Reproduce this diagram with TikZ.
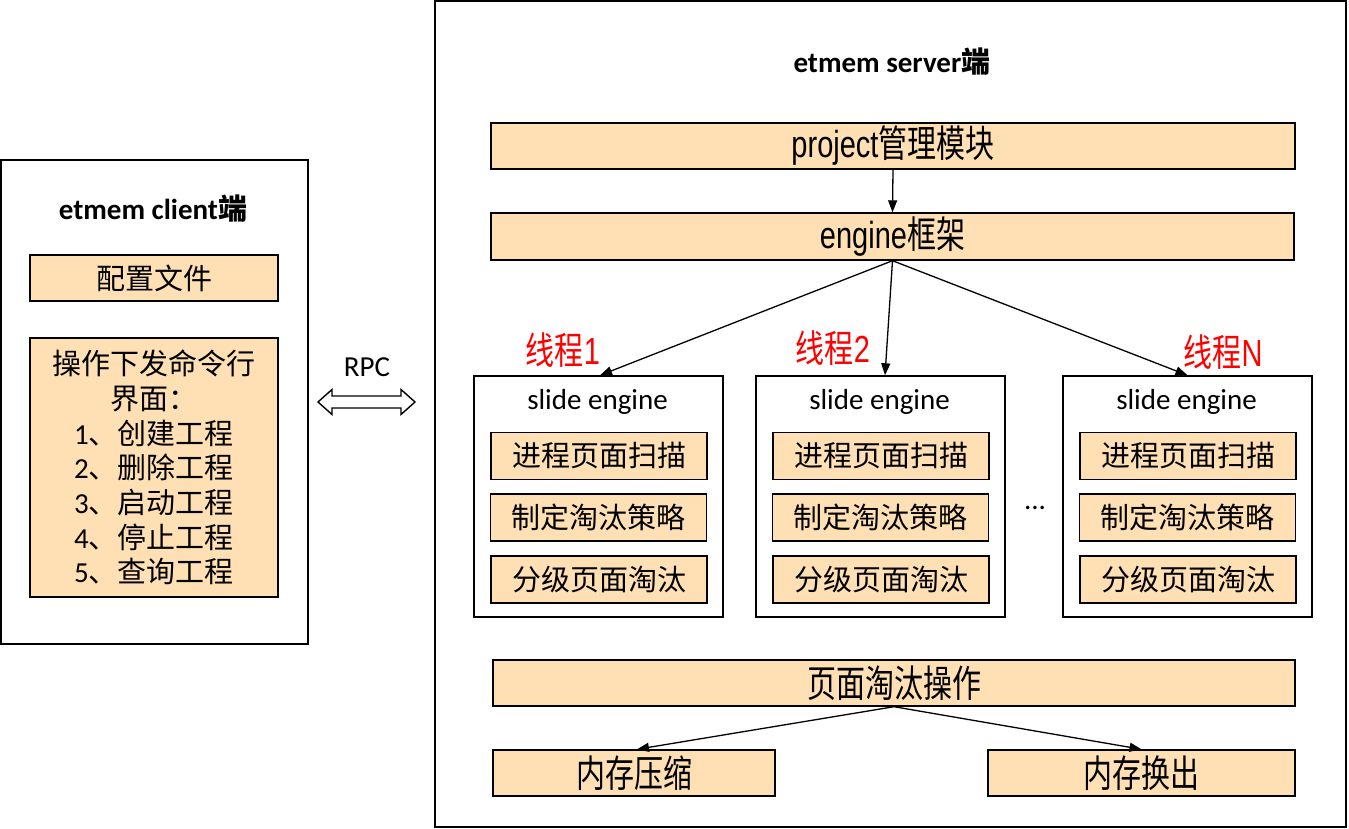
\documentclass[tikz,border=0pt]{standalone}
\usepackage{fontspec}
\usepackage{graphicx}
\setmainfont{Carlito}
\newfontfamily\cjk{Noto Sans CJK SC}
\newfontfamily\ari{Liberation Sans}
\usetikzlibrary{arrows.meta}
\definecolor{peach}{RGB}{255,224,180}
\newcommand{\tallt}[1]{\scalebox{1}[1.3]{#1}}
\begin{document}
\begin{tikzpicture}[x=1pt,y=-1pt,
  frame/.style={draw,line width=1.4pt,inner sep=0pt},
  pbox/.style={draw,line width=1.4pt,fill=peach,inner sep=0pt,minimum height=46pt,font=\fontsize{29}{35}\selectfont},
  lbl/.style={inner sep=0pt,font=\fontsize{29}{35}\selectfont},
  ttl/.style={inner sep=0pt,font=\bfseries\fontsize{29}{35}\selectfont},
  conn/.style={line width=1.3pt,-{Triangle[length=12pt,width=9pt]}},
  hollow/.style={draw,line width=1.4pt,line join=miter,fill=white},
]
\useasboundingbox (0,0) rectangle (1349,829);
% client side
\node[frame,minimum width=307pt,minimum height=484pt] (client) at (154.5,402) {};
\node[ttl] (ctitle) at (153,209) {etmem client{\cjk 端}};
\node[pbox,minimum width=248pt] (cfg) at (154,278) {\cjk 配置文件};
\node[pbox,minimum width=248pt,minimum height=259pt,align=center,font=\fontsize{29}{34.7}\selectfont] (cmd) at (154,467.5)
  {{\cjk 操作下发命令行}\\{\cjk 界面：}\\1{\cjk 、创建工程}\\2{\cjk 、删除工程}\\3{\cjk 、启动工程}\\4{\cjk 、停止工程}\\5{\cjk 、查询工程}};
% RPC
\node[lbl] (rpclbl) at (367,367) {RPC};
\coordinate (rpcL) at (318,402);
\coordinate (rpcR) at (415,402);
\draw[hollow] (rpcL) -- ++(14,-12.5) -- ++(0,6.5) -- ++(69,0) -- ++(0,-6.5) -- (rpcR)
   -- ++(-14,12.5) -- ++(0,-6.5) -- ++(-69,0) -- ++(0,6.5) -- cycle;
% server side
\node[frame,minimum width=911pt,minimum height=826pt] (server) at (890.5,414) {};
\node[ttl] (stitle) at (892,62) {etmem server{\cjk 端}};
\node[pbox,minimum width=804pt] (proj) at (893,146) {\tallt{{\ari project}{\cjk 管理模块}}};
\node[pbox,minimum width=803pt,minimum height=47pt] (eng) at (892.5,236.5) {\tallt{{\ari engine}{\cjk 框架}}};
\draw[conn] (proj.south) -- (eng.north);
\foreach \n/\x in {1/598.5,2/880.5,3/1187.5} {
  \node[frame,minimum width=249pt,minimum height=241pt] (t\n) at (\x,496.5) {};
  \node[lbl] (se\n) at (\x-1,402) {slide engine};
  \node[pbox,minimum width=216pt,minimum height=47pt] (a\n) at (\x+0.5,456) {\cjk 进程页面扫描};
  \node[pbox,minimum width=216pt,minimum height=47pt] (b\n) at (\x,517.5) {\cjk 制定淘汰策略};
  \node[pbox,minimum width=216pt,minimum height=47pt] (c\n) at (\x+0.5,579.5) {\cjk 分级页面淘汰};
}
\draw[conn] (eng.south) -- ([xshift=1.5pt]t1.north);
\draw[conn] (eng.south) -- ([xshift=4.5pt]t2.north);
\draw[conn] (eng.south) -- (t3.north);
\node[lbl,text=red] (l1) at (563,350) {\tallt{{\cjk 线程}{\ari 1}}};
\node[lbl,text=red] (l2) at (833,348) {\tallt{{\cjk 线程}{\ari 2}}};
\node[lbl,text=red] (l3) at (1223,352) {\tallt{{\cjk 线程}{\ari N}}};
\node[lbl] (dots) at (1035,508) {...};
% page eviction
\node[pbox,minimum width=802pt] (op) at (894,683) {\tallt{\cjk 页面淘汰操作}};
\node[pbox,minimum width=282pt] (m1) at (634,773) {\tallt{\cjk 内存压缩}};
\node[pbox,minimum width=307pt] (m2) at (1141.5,773) {\tallt{\cjk 内存换出}};
\draw[conn] (op.south) -- ([xshift=3pt]m1.north);
\draw[conn] (op.south) -- (m2.north);
\end{tikzpicture}
\end{document}
